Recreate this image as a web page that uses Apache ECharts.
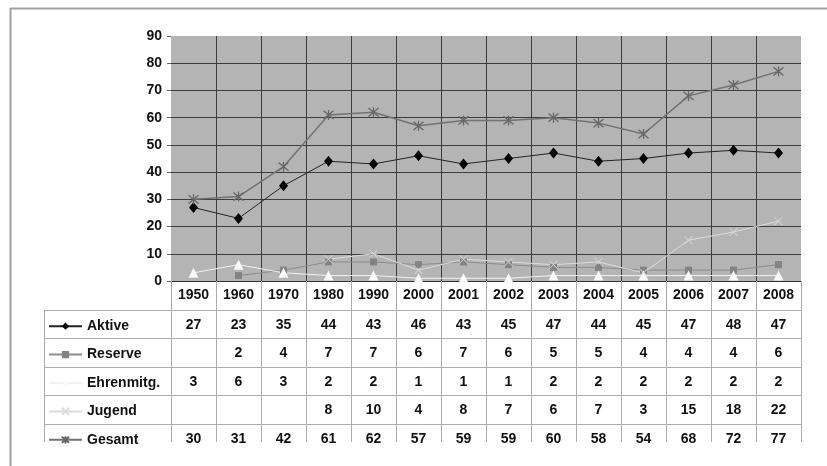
<!DOCTYPE html>
<html>
<head>
<meta charset="utf-8">
<script src="https://cdn.jsdelivr.net/npm/echarts@6/dist/echarts.min.js"></script>
<style>
  html, body { margin: 0; padding: 0; background: #fff; }
  #main { width: 827px; height: 466px; }
</style>
</head>
<body>
<div id="main"></div>
<script>
// Jahre (Kategorien)
const years = ['1950', '1960', '1970', '1980', '1990', '2000', '2001', '2002', '2003', '2004', '2005', '2006', '2007', '2008']
// Werte je Gruppe, null = leer in der Tabelle
const aktive = [27, 23, 35, 44, 43, 46, 43, 45, 47, 44, 45, 47, 48, 47]
const reserve = [null, 2, 4, 7, 7, 6, 7, 6, 5, 5, 4, 4, 4, 6]
const ehrenmitg = [3, 6, 3, 2, 2, 1, 1, 1, 2, 2, 2, 2, 2, 2]
const jugend = [null, null, null, 8, 10, 4, 8, 7, 6, 7, 3, 15, 18, 22]
const gesamt = [30, 31, 42, 61, 62, 57, 59, 59, 60, 58, 54, 68, 72, 77]
const rowNames = ['Aktive', 'Reserve', 'Ehrenmitg.', 'Jugend', 'Gesamt']
const rowValues = [aktive, reserve, ehrenmitg, jugend, gesamt]
// y-Achse
const yMin = 0
const yMax = 90
const yStep = 10

const FONT = 'Arial, "Liberation Sans", sans-serif'
const starPath = 'path://M0,0L10,10M10,0L0,10M5,-1L5,11'
const crossPath = 'path://M0,0L10,10M10,0L0,10'

// Tabelle unter dem Diagramm
const tableLeft = 44
const tableTop = 310
const rowH = 28.4
const tableBottom = 442

const chartInstance = echarts.init(document.getElementById('main'))

// erste und letzte senkrechte Linie ausblenden
const xSplitColors = years.map(() => '#3c3c3c')
xSplitColors.unshift('transparent')
xSplitColors[years.length] = 'transparent'

const initOption = {
  animation: false,
  backgroundColor: '#fff',
  textStyle: { fontFamily: FONT },
  grid: {
    left: 171,
    right: 26,
    top: 36,
    bottom: 185,
    show: true,
    backgroundColor: '#b4b4b4',
    borderWidth: 0
  },
  legend: {
    orient: 'vertical',
    left: 48,
    top: tableTop + rowH / 2 - 6,
    padding: 0,
    itemWidth: 33,
    itemHeight: 9,
    itemGap: rowH - 16,
    selectedMode: false,
    data: rowNames,
    textStyle: { fontFamily: FONT, fontSize: 14, fontWeight: 'bold', color: '#111', lineHeight: 16 }
  },
  xAxis: {
    type: 'category',
    data: years,
    boundaryGap: true,
    axisLine: { show: true, lineStyle: { color: '#333', width: 1 } },
    axisTick: { show: true, interval: 0, length: 29, lineStyle: { color: '#aaa' } },
    axisLabel: { interval: 0, margin: 7, fontFamily: FONT, fontSize: 14, fontWeight: 'bold', color: '#111' },
    splitLine: { show: true, interval: 0, lineStyle: { color: xSplitColors, width: 1 } }
  },
  yAxis: {
    type: 'value',
    min: yMin,
    max: yMax,
    interval: yStep,
    axisLine: { show: false },
    axisTick: { show: true, length: 4, lineStyle: { color: '#666' } },
    axisLabel: { margin: 9, fontFamily: FONT, fontSize: 14, fontWeight: 'bold', color: '#111' },
    splitLine: {
      show: true,
      lineStyle: { color: ['#3c3c3c', '#3c3c3c', '#3c3c3c', '#3c3c3c', '#3c3c3c', '#3c3c3c', '#3c3c3c', '#3c3c3c', '#3c3c3c', 'transparent'] }
    }
  },
  series: [
    {
      name: 'Aktive', type: 'line', data: aktive,
      symbol: 'diamond', symbolSize: [9, 11],
      lineStyle: { color: '#222', width: 1 },
      itemStyle: { color: '#000' }
    },
    {
      name: 'Reserve', type: 'line', data: reserve,
      symbol: 'rect', symbolSize: 7,
      lineStyle: { color: '#8c8c8c', width: 1 },
      itemStyle: { color: '#838383' }
    },
    {
      name: 'Ehrenmitg.', type: 'line', data: ehrenmitg,
      symbol: 'triangle', symbolSize: 10,
      lineStyle: { color: '#f2f2f2', width: 1 },
      itemStyle: { color: '#fafafa' }
    },
    {
      name: 'Jugend', type: 'line', data: jugend,
      symbol: crossPath, symbolSize: 8,
      lineStyle: { color: '#dcdcdc', width: 1 },
      itemStyle: { color: 'none', borderColor: '#dcdcdc', borderWidth: 1 }
    },
    {
      name: 'Gesamt', type: 'line', data: gesamt,
      symbol: starPath, symbolSize: 10,
      lineStyle: { color: '#727272', width: 1.5 },
      itemStyle: { color: 'none', borderColor: '#666', borderWidth: 1.3 }
    }
  ]
}
chartInstance.setOption(initOption)

// Tabelle mit Hilfe der x-Achse positionieren
function buildTable() {
  const centers = years.map((y, i) => chartInstance.convertToPixel({ xAxisIndex: 0 }, i))
  const band = centers[1] - centers[0]
  const rightEdge = centers[centers.length - 1] + band / 2
  const lineStyle = { stroke: '#adadad', lineWidth: 1 }
  const elements = []

  // waagerechte Linien
  for (let r = 0; r < rowNames.length; r++) {
    const y = Math.round(tableTop + r * rowH) + 0.5
    elements.push({ type: 'line', shape: { x1: tableLeft, y1: y, x2: rightEdge, y2: y }, style: lineStyle, silent: true })
  }
  // senkrechte Linien
  const xs = [tableLeft].concat(centers.map(c => c - band / 2), [rightEdge])
  xs.forEach(x => {
    const xx = Math.round(x) + 0.5
    elements.push({ type: 'line', shape: { x1: xx, y1: tableTop, x2: xx, y2: tableBottom }, style: lineStyle, silent: true })
  })
  // Werte
  rowValues.forEach((vals, r) => {
    const cy = tableTop + r * rowH + rowH / 2 + 1
    vals.forEach((v, i) => {
      if (v === null) return
      elements.push({
        type: 'text', silent: true,
        style: {
          text: String(v), x: centers[i], y: cy,
          align: 'center', verticalAlign: 'middle',
          font: 'bold 14px ' + FONT, fill: '#111'
        }
      })
    })
  })
  // Rahmen
  elements.push({ type: 'line', shape: { x1: 10, y1: 8.5, x2: 827, y2: 8.5 }, style: { stroke: '#a0a0a0', lineWidth: 2 }, silent: true })
  elements.push({ type: 'line', shape: { x1: 10.5, y1: 8, x2: 10.5, y2: 466 }, style: { stroke: '#a0a0a0', lineWidth: 2 }, silent: true })

  chartInstance.setOption({ graphic: elements })
}
buildTable()
</script>
</body>
</html>
